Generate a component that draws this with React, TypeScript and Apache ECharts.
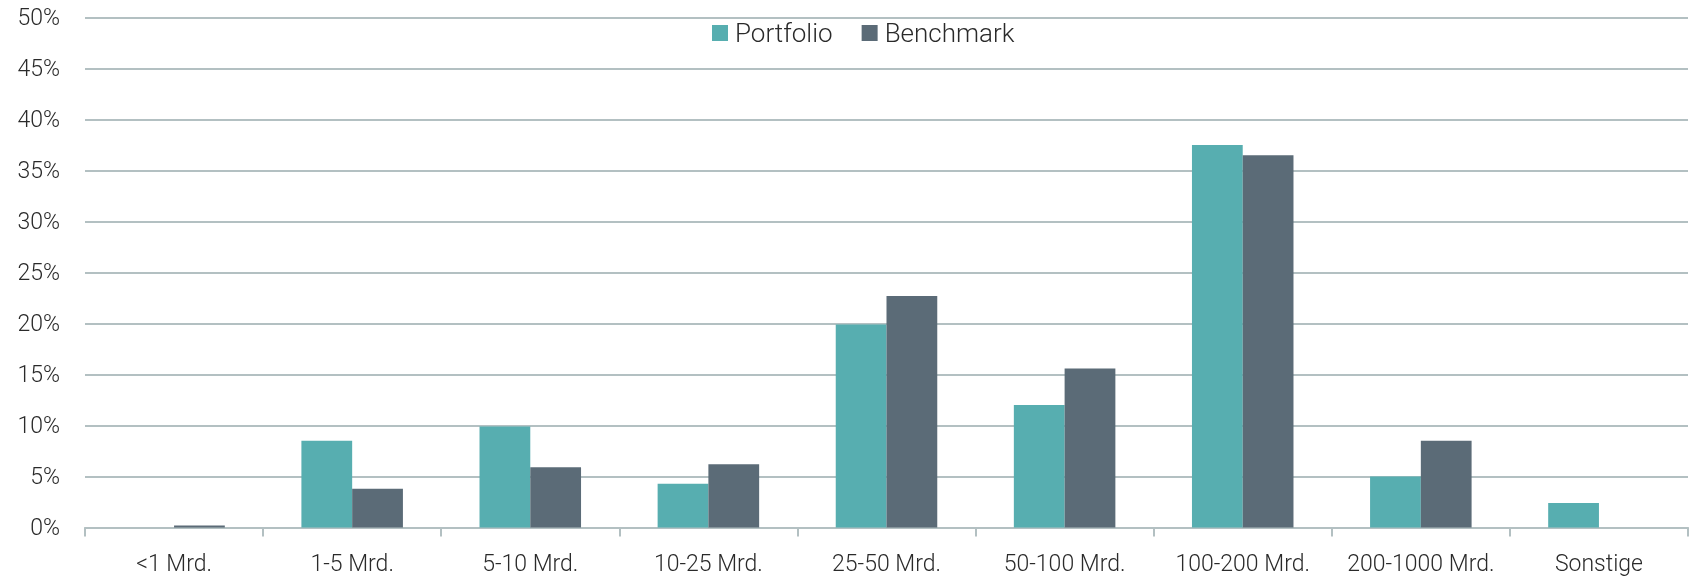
import React, { useEffect, useRef } from "react";
import * as echarts from "echarts";

const categories = [
  "<1 Mrd.",
  "1-5 Mrd.",
  "5-10 Mrd.",
  "10-25 Mrd.",
  "25-50 Mrd.",
  "50-100 Mrd.",
  "100-200 Mrd.",
  "200-1000 Mrd.",
  "Sonstige",
];
const portfolio = [0, 8.5, 9.9, 4.3, 19.9, 12.0, 37.5, 5.0, 2.4];
const benchmark = [0.2, 3.8, 5.9, 6.2, 22.7, 15.6, 36.5, 8.5, 0];
const seriesNames = ["Portfolio", "Benchmark"];
const colors = ["#57AEB0", "#5B6B77"];

const gridColor = "#B3C0C2";
const textColor = "#2a2a2a";
const font = "Roboto";

export default function App() {
  const ref = useRef<HTMLDivElement>(null);
  useEffect(() => {
    if (!ref.current) return;
    const chart = echarts.init(ref.current, null, { renderer: "svg" });
    chart.setOption({
      animation: false,
      color: colors,
      grid: { left: 85, right: 5, top: 17.5, bottom: 48.5, containLabel: false },
      legend: {
        left: 707,
        top: 15,
        itemWidth: 16,
        itemHeight: 16,
        itemGap: 29,
        icon: "rect",
        textStyle: { fontFamily: font, fontWeight: 300, fontSize: 26, color: textColor, padding: [0, 0, 0, 2] },
        data: seriesNames,
      },
      xAxis: {
        type: "category",
        data: categories,
        axisLine: { lineStyle: { color: gridColor, width: 2 } },
        axisTick: { show: true, length: 9, lineStyle: { color: gridColor, width: 2 } },
        axisLabel: { interval: 0, fontFamily: font, fontWeight: 300, fontSize: 23, color: textColor, margin: 24 },
      },
      yAxis: {
        type: "value",
        min: 0,
        max: 50,
        interval: 5,
        axisLine: { show: false },
        axisTick: { show: false },
        splitLine: { lineStyle: { color: gridColor, width: 2 } },
        axisLabel: {
          fontFamily: font,
          fontWeight: 300,
          fontSize: 23,
          color: textColor,
          margin: 25,
          formatter: "{value}%",
        },
      },
      series: [
        {
          name: seriesNames[0],
          type: "bar",
          data: portfolio,
          barGap: "0%",
          barCategoryGap: "43%",
          itemStyle: { color: colors[0] },
        },
        {
          name: seriesNames[1],
          type: "bar",
          data: benchmark,
          barGap: "0%",
          barCategoryGap: "43%",
          itemStyle: { color: colors[1] },
        },
      ],
    });
    return () => chart.dispose();
  }, []);
  return (
    <div
      ref={ref}
      style={{ position: "fixed", left: 0, top: 0, width: 1693, height: 576 }}
    />
  );
}
